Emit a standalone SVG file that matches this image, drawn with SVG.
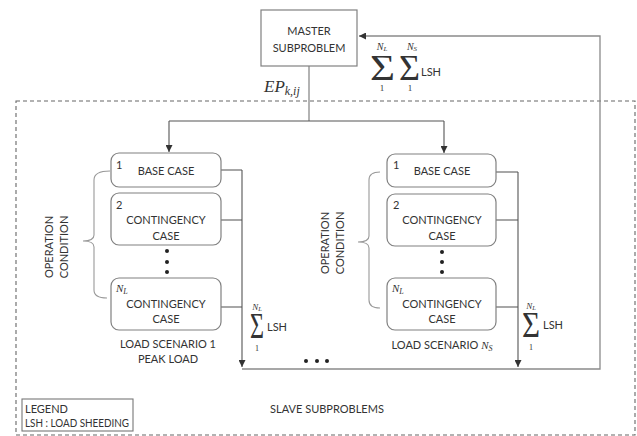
<svg xmlns="http://www.w3.org/2000/svg" width="637" height="436" viewBox="0 0 637 436">
  <style>
    .box { fill: #fff; stroke: #808080; stroke-width: 1.2; }
    .lbl { font-family: Lato, "Open Sans", "Liberation Sans", sans-serif; font-size: 11px; fill: #333; }
    .mid { text-anchor: middle; }
    .math { font-family: "Liberation Serif", "DejaVu Serif", serif; font-style: italic; fill: #333; }
    .num { font-family: "Liberation Serif", "DejaVu Serif", serif; font-style: normal; fill: #333; text-anchor: middle; }
    .sig { font-family: "Liberation Serif", "DejaVu Serif", serif; font-size: 36px; fill: #333; }
    .wire { fill: none; stroke: #555; stroke-width: 1.1; }
    .soft { fill: none; stroke: #8a8a8a; stroke-width: 1.3; }
    .brace { fill: none; stroke: #999; stroke-width: 1.1; }
    .dot { fill: #222; }
  </style>
  <defs>
    <marker id="ah" viewBox="0 0 10 10" refX="10" refY="5" markerWidth="7" markerHeight="7" markerUnits="userSpaceOnUse" orient="auto">
      <path d="M0,0 L10,5 L0,10 z" fill="#333"/>
    </marker>
  </defs>

  <rect width="637" height="436" fill="#fff"/>

  <!-- slave subproblem region -->
  <g id="slave-region">
    <rect x="16" y="101" width="619" height="334" fill="none" stroke="#666" stroke-width="1.1" stroke-dasharray="4 3"/>
    <text class="lbl mid" x="327" y="413" font-size="12">SLAVE SUBPROBLEMS</text>
  </g>

  <!-- connectors -->
  <g id="connectors">
    <path class="soft" d="M309,66 V121" stroke="#aaa"/>
    <path class="wire" d="M169,121 H444"/>
    <path class="wire" d="M169,121 V152" marker-end="url(#ah)"/>
    <path class="wire" d="M444,121 V153" marker-end="url(#ah)"/>
    <!-- scenario 1 collector -->
    <path class="soft" d="M221,170 H242 M221,220 H242 M220,307 H242"/>
    <path class="wire" d="M242,170 V367" marker-end="url(#ah)"/>
    <!-- scenario Ns collector -->
    <path class="soft" d="M496,172 H518 M496,220 H518 M496,307 H518"/>
    <path class="wire" d="M518,172 V367" marker-end="url(#ah)"/>
    <!-- feedback to master -->
    <path class="soft" d="M242,369 H600 V36 H359" marker-end="url(#ah)"/>
  </g>

  <!-- master problem -->
  <g id="master">
    <rect x="261" y="10" width="96" height="56" fill="#fff" stroke="#808080" stroke-width="1.2"/>
    <text class="lbl mid" x="309" y="35" font-size="11.5">MASTER</text>
    <text class="lbl mid" x="309" y="52" font-size="11.5">SUBPROBLEM</text>
  </g>

  <!-- aggregated load shedding returned to master -->
  <g id="sum-master">
    <text class="sig" x="370" y="80" textLength="25" lengthAdjust="spacingAndGlyphs">Σ</text>
    <text class="sig" x="399" y="80" textLength="21" lengthAdjust="spacingAndGlyphs">Σ</text>
    <text class="math" x="382" y="50" font-size="10" text-anchor="middle">N<tspan font-size="7" dy="1">L</tspan></text>
    <text class="math" x="412" y="50" font-size="10" text-anchor="middle">N<tspan font-size="7" dy="1">S</tspan></text>
    <text class="num" x="382" y="91" font-size="9">1</text>
    <text class="num" x="410" y="91" font-size="9">1</text>
    <text class="lbl" x="421" y="76" font-size="10">LSH</text>
  </g>

  <g id="ep-label">
    <text class="math" x="264" y="92" font-size="17">EP<tspan font-size="12" dy="3">k,ij</tspan></text>
  </g>

  <!-- scenario 1 -->
  <g id="s1-base">
    <rect class="box" x="111" y="153" width="110" height="34" rx="8"/>
    <text class="lbl" x="116" y="169">1</text>
    <text class="lbl mid" x="166" y="175">BASE CASE</text>
  </g>
  <g id="s1-cont2">
    <rect class="box" x="111" y="193" width="110" height="52" rx="8"/>
    <text class="lbl" x="116" y="209">2</text>
    <text class="lbl mid" x="166" y="224">CONTINGENCY</text>
    <text class="lbl mid" x="166" y="240">CASE</text>
  </g>
  <g id="s1-dots">
    <circle class="dot" cx="167" cy="251" r="2"/>
    <circle class="dot" cx="167" cy="262" r="2"/>
    <circle class="dot" cx="167" cy="272" r="2"/>
  </g>
  <g id="s1-contNL">
    <rect class="box" x="111" y="278" width="110" height="52" rx="8"/>
    <text class="math" x="116" y="292" font-size="11">N<tspan font-size="8" dy="2">L</tspan></text>
    <text class="lbl mid" x="166" y="308">CONTINGENCY</text>
    <text class="lbl mid" x="166" y="323">CASE</text>
  </g>
  <g id="s1-label">
    <text class="lbl mid" x="168" y="348">LOAD SCENARIO 1</text>
    <text class="lbl mid" x="168" y="363">PEAK LOAD</text>
  </g>
  <g id="s1-condition">
    <path class="brace" d="M110,171 Q94,171 94,180 L94,235 Q94,241 83,241 Q94,241 94,247 L94,290 Q94,298 107,298"/>
    <text class="lbl mid" transform="translate(53,247) rotate(-90)">OPERATION</text>
    <text class="lbl mid" transform="translate(68,247) rotate(-90)">CONDITION</text>
  </g>
  <g id="s1-sum">
    <text class="sig" x="250" y="338" textLength="14" lengthAdjust="spacingAndGlyphs">Σ</text>
    <text class="math" x="257" y="310" font-size="9" text-anchor="middle">N<tspan font-size="6.5" dy="1">L</tspan></text>
    <text class="num" x="257" y="351" font-size="8">1</text>
    <text class="lbl" x="267" y="331" font-size="10">LSH</text>
  </g>

  <!-- scenario Ns -->
  <g id="sN-base">
    <rect class="box" x="387" y="154" width="109" height="33" rx="8"/>
    <text class="lbl" x="393" y="169">1</text>
    <text class="lbl mid" x="442" y="175">BASE CASE</text>
  </g>
  <g id="sN-cont2">
    <rect class="box" x="387" y="194" width="109" height="52" rx="8"/>
    <text class="lbl" x="393" y="209">2</text>
    <text class="lbl mid" x="442" y="224">CONTINGENCY</text>
    <text class="lbl mid" x="442" y="240">CASE</text>
  </g>
  <g id="sN-dots">
    <circle class="dot" cx="442" cy="252" r="2"/>
    <circle class="dot" cx="442" cy="262" r="2"/>
    <circle class="dot" cx="442" cy="272" r="2"/>
  </g>
  <g id="sN-contNL">
    <rect class="box" x="387" y="278" width="109" height="52" rx="8"/>
    <text class="math" x="392" y="292" font-size="11">N<tspan font-size="8" dy="2">L</tspan></text>
    <text class="lbl mid" x="442" y="308">CONTINGENCY</text>
    <text class="lbl mid" x="442" y="323">CASE</text>
  </g>
  <g id="sN-label">
    <text class="lbl mid" x="442" y="349">LOAD SCENARIO <tspan class="math" font-size="11">N<tspan font-size="8" dy="2">S</tspan></tspan></text>
  </g>
  <g id="sN-condition">
    <path class="brace" d="M380,172 Q369,172 369,180 L369,236 Q369,242 358,242 Q369,242 369,248 L369,300 Q369,308 380,308"/>
    <text class="lbl mid" transform="translate(329,243) rotate(-90)">OPERATION</text>
    <text class="lbl mid" transform="translate(344,243) rotate(-90)">CONDITION</text>
  </g>
  <g id="sN-sum">
    <text class="sig" x="522" y="337" textLength="18" lengthAdjust="spacingAndGlyphs">Σ</text>
    <text class="math" x="531" y="309" font-size="9" text-anchor="middle">N<tspan font-size="6.5" dy="1">L</tspan></text>
    <text class="num" x="531" y="350" font-size="8">1</text>
    <text class="lbl" x="543" y="329" font-size="10">LSH</text>
  </g>

  <g id="between-dots">
    <circle class="dot" cx="306" cy="361" r="2"/>
    <circle class="dot" cx="317" cy="361" r="2"/>
    <circle class="dot" cx="327" cy="361" r="2"/>
  </g>

  <!-- legend -->
  <g id="legend">
    <rect x="22" y="399" width="111" height="32" fill="#fff" stroke="#777" stroke-width="1.1"/>
    <text class="lbl" x="25" y="413" font-size="10">LEGEND</text>
    <text class="lbl" x="25" y="427" font-size="10" textLength="104" lengthAdjust="spacingAndGlyphs">LSH : LOAD SHEEDING</text>
  </g>
</svg>
